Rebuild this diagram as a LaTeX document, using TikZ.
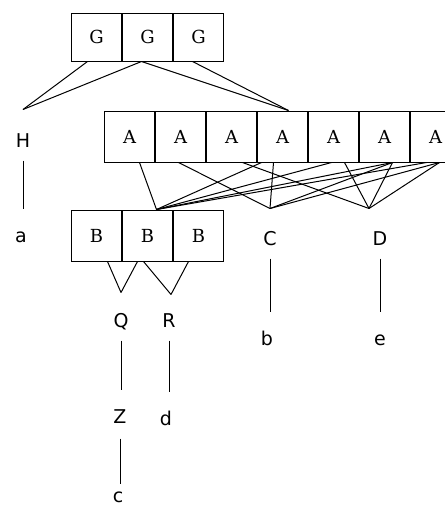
\documentclass[tikz,border=0pt]{standalone}
\usepackage{fontspec}
\usepackage{tikz}
\newfontfamily\lblfont{DejaVu Sans}
\newfontfamily\boxfont{DejaVu Serif}

\begin{document}
\begin{tikzpicture}[x=1pt,y=-1pt,line width=1pt,
  box/.style={rectangle,draw=black,inner sep=0pt,minimum width=50pt,minimum height=51pt,
    font=\boxfont\fontsize{18pt}{20pt}\selectfont},
  lbl/.style={inner sep=0pt,text height=14pt,text depth=0pt,
    font=\lblfont\fontsize{19pt}{21pt}\selectfont},
  link/.style={shorten <=13pt,shorten >=19pt}]
\useasboundingbox (0,0) rectangle (445,507);
%Top row
\node at (71,37)[box,minimum height=48pt,right] (g0) {G} ;
\node at (g0.east)[box,minimum height=48pt,right] (g1) {G} ;
\node at (g1.east)[box,minimum height=48pt,right] (g2) {G} ;
%Middle row
\node at (104,136.5)[box,right] (a0) {A} ;
\node at (a0.east)[box,right] (a1) {A} ;
\node at (a1.east)[box,right] (a2) {A} ;
\node at (a2.east)[box,right] (a3) {A} ;
\node at (a3.east)[box,right] (a4) {A} ;
\node at (a4.east)[box,right] (a5) {A} ;
\node at (a5.east)[box,right] (a6) {A} ;
%Bottom row
\node at (71,235.5)[box,right] (b0) {B} ;
\node at (b0.east)[box,right] (b1) {B} ;
\node at (b1.east)[box,right] (b2) {B} ;
%Labels
\node at (23,140)[lbl] (H) {H} ;
\node at (21,235)[lbl] (a) {a} ;
\node at (270,238)[lbl] (C) {C} ;
\node at (380,238)[lbl] (D) {D} ;
\node at (267,338)[lbl] (b) {b} ;
\node at (380,338)[lbl] (e) {e} ;
\node at (121,320)[lbl] (Q) {Q} ;
\node at (169,320)[lbl] (R) {R} ;
\node at (120,416)[lbl] (Z) {Z} ;
\node at (166,418)[lbl] (d) {d} ;
\node at (118,495)[lbl] (c) {c} ;
%Joins
\coordinate (hj) at ([yshift=23pt]H.north) ;
\coordinate (aj) at ([xshift=6pt]a3.north) ;
\coordinate (bj) at ([xshift=9pt]b1.north) ;
\coordinate (cj) at ([yshift=22pt]C.north) ;
\coordinate (dj) at ([xshift=-11pt,yshift=22pt]D.north) ;
\coordinate (qj) at ([yshift=20pt]Q.north) ;
\coordinate (rj) at ([xshift=2pt,yshift=18pt]R.north) ;
%G to H and A
\draw ([xshift=-9pt]g0.south) -- (hj) ;
\draw ([xshift=-6pt]g1.south) -- (hj) ;
\draw ([xshift=-6pt]g1.south) -- (aj) ;
\draw ([xshift=-6pt]g2.south) -- (aj) ;
%A to B, C, D
\draw ([xshift=10pt]a0.south) -- (bj) ;
\draw ([xshift=-2pt]a1.south) -- (cj) ;
\draw ([xshift=11pt]a2.south) -- (dj) ;
\draw ([xshift=-21pt]a3.south) -- (bj) ;
\draw ([xshift=-9pt]a3.south) -- (cj) ;
\draw ([xshift=-2pt]a4.south) -- (bj) ;
\draw ([xshift=11pt]a4.south) -- (dj) ;
\draw ([xshift=8pt]a5.south) -- (bj) ;
\draw ([xshift=8pt]a5.south) -- (cj) ;
\draw ([xshift=8pt]a5.south) -- (dj) ;
\draw ([xshift=-9pt]a6.south) -- (bj) ;
\draw ([xshift=4pt]a6.south) -- (cj) ;
\draw ([xshift=4pt]a6.south) -- (dj) ;
%B to Q and R
\draw ([xshift=11pt]b0.south) -- (qj) ;
\draw ([xshift=-10pt]b1.south) -- (qj) ;
\draw ([xshift=-4pt]b1.south) -- (rj) ;
\draw ([xshift=-10pt]b2.south) -- (rj) ;
%Label to label
\draw[link] (H.south) -- (H.south |- a.north) ;
\draw[link] (C.south) -- (C.south |- b.north) ;
\draw[link] (D.south) -- (D.south |- e.north) ;
\draw[link] (Q.south) -- (Q.south |- Z.north) ;
\draw[link] (R.south) -- (R.south |- d.north) ;
\draw[link,shorten <=15pt,shorten >=4pt] (Z.south) -- (Z.south |- c.north) ;
\end{tikzpicture}
\end{document}
